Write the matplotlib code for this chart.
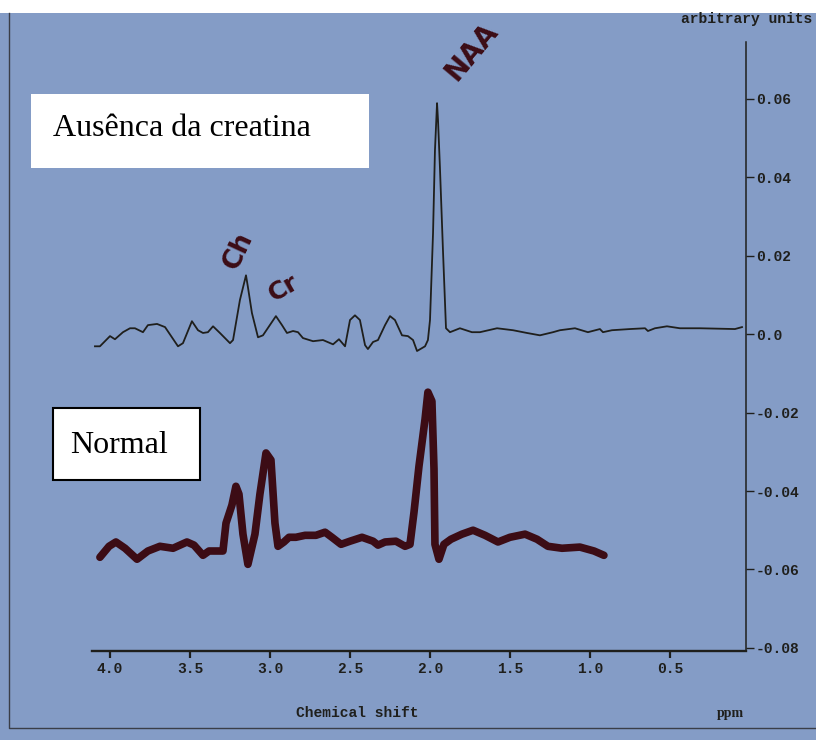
import matplotlib
matplotlib.use("Agg")
import matplotlib.pyplot as plt
from matplotlib.patches import Rectangle
from matplotlib.lines import Line2D

# spectrum without creatine (thin trace), ppm / arbitrary units
absent_ppm = [4.094, 4.063, 4.000, 3.969, 3.919, 3.875, 3.844, 3.794, 3.763, 3.706,
              3.656, 3.613, 3.575, 3.544, 3.488, 3.450, 3.419, 3.388, 3.356, 3.313,
              3.250, 3.231, 3.188, 3.150, 3.138, 3.113, 3.075, 3.044, 2.963, 2.925,
              2.894, 2.856, 2.825, 2.794, 2.731, 2.669, 2.606, 2.569, 2.531, 2.500,
              2.469, 2.438, 2.406, 2.388, 2.356, 2.325, 2.281, 2.250, 2.219, 2.175,
              2.138, 2.106, 2.081, 2.031, 2.013, 2.000, 1.981, 1.969, 1.956, 1.950,
              1.938, 1.919, 1.900, 1.875, 1.813, 1.738, 1.688, 1.581, 1.481, 1.394,
              1.313, 1.231, 1.188, 1.094, 1.013, 0.938, 0.919, 0.863, 0.750, 0.656,
              0.638, 0.594, 0.519, 0.438, 0.313, 0.094, 0.050]
absent_val = [-0.0031, -0.0031, -0.0005, -0.0013, 0.0005, 0.0015, 0.0015, 0.0005, 0.0023, 0.0026,
              0.0018, -0.0008, -0.0031, -0.0023, 0.0033, 0.0010, 0.0003, 0.0005, 0.0020, 0.0003,
              -0.0023, -0.0015, 0.0087, 0.0150, 0.0120, 0.0054, -0.0008, -0.0003, 0.0046, 0.0023,
              0.0003, 0.0008, 0.0005, -0.0010, -0.0018, -0.0015, -0.0026, -0.0013, -0.0031, 0.0036,
              0.0048, 0.0036, -0.0028, -0.0038, -0.0020, -0.0015, 0.0023, 0.0046, 0.0036, -0.0003,
              -0.0005, -0.0015, -0.0043, -0.0031, -0.0015, 0.0036, 0.0258, 0.0469, 0.0589, 0.0546,
              0.0426, 0.0214, 0.0015, 0.0005, 0.0015, 0.0005, 0.0005, 0.0015, 0.0010, 0.0003,
              -0.0003, 0.0005, 0.0010, 0.0015, 0.0005, 0.0013, 0.0005, 0.0010, 0.0013, 0.0015,
              0.0008, 0.0015, 0.0020, 0.0015, 0.0015, 0.0013, 0.0018]

# normal spectrum (hand drawn, thick trace)
normal_ppm = [4.063, 4.006, 3.963, 3.906, 3.831, 3.763, 3.688, 3.606, 3.519, 3.475,
              3.419, 3.381, 3.350, 3.294, 3.275, 3.238, 3.213, 3.194, 3.169, 3.138,
              3.094, 3.063, 3.025, 2.994, 2.969, 2.950, 2.913, 2.881, 2.838, 2.781,
              2.713, 2.656, 2.613, 2.556, 2.500, 2.425, 2.356, 2.325, 2.281, 2.213,
              2.156, 2.125, 2.100, 2.069, 2.031, 2.013, 1.988, 1.975, 1.969, 1.944,
              1.913, 1.869, 1.800, 1.731, 1.656, 1.575, 1.500, 1.406, 1.331, 1.263,
              1.175, 1.063, 0.975, 0.913]
normal_val = [-0.0569, -0.0541, -0.0530, -0.0546, -0.0574, -0.0553, -0.0541, -0.0546, -0.0530, -0.0538,
              -0.0564, -0.0553, -0.0553, -0.0553, -0.0482, -0.0436, -0.0388, -0.0408, -0.0510, -0.0587,
              -0.0510, -0.0408, -0.0303, -0.0321, -0.0482, -0.0541, -0.0530, -0.0518, -0.0518, -0.0513,
              -0.0513, -0.0505, -0.0518, -0.0536, -0.0528, -0.0518, -0.0528, -0.0538, -0.0530, -0.0528,
              -0.0541, -0.0536, -0.0454, -0.0337, -0.0217, -0.0148, -0.0171, -0.0344, -0.0536, -0.0574,
              -0.0536, -0.0523, -0.0510, -0.0500, -0.0513, -0.0530, -0.0518, -0.0510, -0.0523, -0.0541,
              -0.0546, -0.0543, -0.0553, -0.0564]

x_ticks = [4.0, 3.5, 3.0, 2.5, 2.0, 1.5, 1.0, 0.5]
x_labels = ["4.0", "3.5", "3.0", "2.5", "2.0", "1.5", "1.0", "0.5"]
y_ticks = [0.06, 0.04, 0.02, 0.0, -0.02, -0.04, -0.06, -0.08]
y_labels = ["0.06", "0.04", "0.02", "0.0", "-0.02", "-0.04", "-0.06", "-0.08"]

BG = "#849cc6"
INK = "#1f1f1c"
PEN = "#3c0c15"
MONO = {"family": "Liberation Mono", "weight": "bold", "size": 10.5}

plt.rcParams["axes.unicode_minus"] = False

fig = plt.figure(figsize=(8.16, 7.40), dpi=100, facecolor=BG)
W, H = 816.0, 740.0


def fx(px):
    return px / W


def fy(py):
    return 1 - py / H


# scan border: white strip on top, dark frame line left and bottom
fig.add_artist(Rectangle((0, fy(13)), 1, 13 / H, transform=fig.transFigure,
                         facecolor="white", edgecolor="none", zorder=0))
fig.add_artist(Line2D([fx(9), fx(9), 1], [fy(13), fy(728), fy(728)],
                      transform=fig.transFigure, color="#3a3e48", lw=1.0))

ax = fig.add_axes([fx(92), fy(651), fx(746) - fx(92), fy(42) - fy(651)])
ax.set_facecolor("none")

ax.plot(absent_ppm, absent_val, color=INK, lw=1.3)
ax.plot(normal_ppm, normal_val, color=PEN, lw=5.5,
        solid_capstyle="round", solid_joinstyle="round")

ax.set_xlim(4.1125, 0.025)
ax.set_ylim(-0.0808, 0.0745)

for s in ["top", "left"]:
    ax.spines[s].set_visible(False)
ax.spines["bottom"].set_linewidth(1.7)
ax.spines["right"].set_linewidth(1.1)
ax.spines["bottom"].set_color(INK)
ax.spines["right"].set_color(INK)

ax.yaxis.tick_right()
ax.set_xticks(x_ticks)
ax.set_xticklabels(x_labels, fontdict=MONO)
ax.set_yticks(y_ticks)
ax.set_yticklabels(y_labels, fontdict=MONO)
ax.tick_params(axis="x", direction="out", length=5, width=1.6, pad=3, colors=INK)
ax.tick_params(axis="y", direction="out", length=6, width=1.0, pad=1, colors=INK)

fig.text(fx(812), fy(19), "arbitrary units", ha="right", va="center",
         color=INK, **MONO)
fig.text(fx(357), fy(713), "Chemical shift", ha="center", va="center",
         color=INK, **MONO)
fig.text(fx(730), fy(713), "ppm", ha="center", va="center", color=INK,
         family="Liberation Serif", weight="bold", size=10)

# label boxes
fig.add_artist(Rectangle((fx(31), fy(168)), (369 - 31) / W, (168 - 94) / H,
                         transform=fig.transFigure, facecolor="white",
                         edgecolor="none"))
fig.text(fx(53), fy(136), "Ausênca da creatina", ha="left", va="baseline",
         family="Liberation Serif", size=23, color="black")
fig.add_artist(Rectangle((fx(53), fy(480)), (200 - 53) / W, (480 - 408) / H,
                         transform=fig.transFigure, facecolor="white",
                         edgecolor="black", lw=1.5))
fig.text(fx(70), fy(453), "Normal", ha="left", va="baseline",
         family="Liberation Serif", size=23, color="black")

# handwritten peak labels
fig.text(fx(472), fy(52), "NAA", ha="center", va="center", rotation=50,
         color=PEN, family="DejaVu Sans", weight="heavy", size=20)
fig.text(fx(238), fy(251), "Ch", ha="center", va="center", rotation=65,
         color=PEN, family="DejaVu Sans", weight="heavy", size=19)
fig.text(fx(284), fy(288), "Cr", ha="center", va="center", rotation=30,
         color=PEN, family="DejaVu Sans", weight="heavy", size=18)

fig.savefig("out.png", dpi=100, facecolor=BG)
